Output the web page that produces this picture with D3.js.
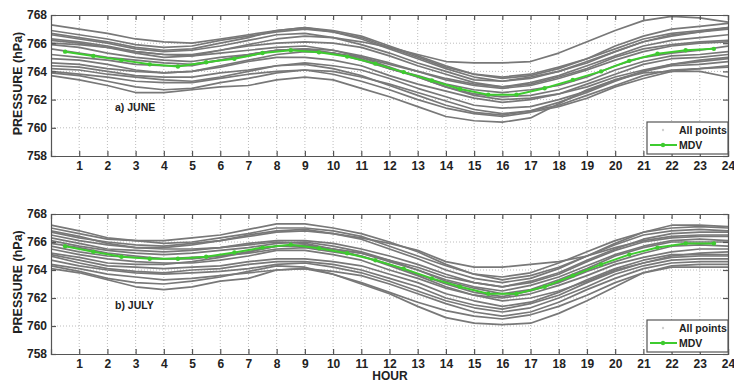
<!DOCTYPE html>
<html>
<head>
<meta charset="utf-8">
<script src="https://cdn.jsdelivr.net/npm/d3@7/dist/d3.min.js"></script>
<style>
  html, body { margin: 0; padding: 0; background: #ffffff; }
  svg { display: block; }
  text { font-family: "Liberation Sans", Arial, sans-serif; font-weight: bold; fill: #222; }
</style>
</head>
<body>
<svg id="chart" width="734" height="383"></svg>
<script>
// Hourly samples (hour 0 .. 24) for every day of the month
const hours = d3.range(0, 25);
// Hours at which the mean diurnal variation (MDV) is given
const mdvHours = d3.range(0.5, 24, 1);
const xTicks = d3.range(1, 25);
const yTicks = [758, 760, 762, 764, 766, 768];

// June: daily pressure curves (hPa)
const juneDays = [
  [767.3,767.0,766.7,766.3,766.1,766.0,766.3,766.6,766.9,767.1,766.8,766.4,765.7,765.0,764.3,763.8,763.6,763.8,764.3,764.9,765.6,766.3,766.7,766.9,767.1],
  [766.2,766.0,765.7,765.4,765.2,765.2,765.5,765.9,766.3,766.5,766.4,766.1,765.7,765.2,764.7,764.6,764.6,764.7,765.3,766.1,766.9,767.6,767.9,767.8,767.5],
  [763.7,763.4,763.0,762.5,762.5,762.7,762.9,763.0,763.4,763.6,763.4,762.8,762.2,761.5,760.8,760.5,760.4,760.7,761.7,762.7,763.4,763.9,764.0,764.0,763.6],
  [766.6,766.3,766.0,765.6,765.4,765.5,765.8,766.2,766.6,766.7,766.4,765.9,765.3,764.6,764.0,763.4,763.3,763.6,764.0,764.7,765.4,766.1,766.5,766.8,767.0],
  [766.0,765.9,765.7,765.3,765.0,765.1,765.5,765.8,766.0,766.1,766.0,765.7,765.1,764.4,763.8,763.2,762.9,763.1,763.6,764.2,765.0,765.6,765.9,766.1,766.2],
  [765.9,765.7,765.3,765.0,764.8,764.7,765.0,765.2,765.5,765.6,765.3,764.9,764.2,763.6,762.9,762.4,762.2,762.3,762.7,763.3,764.1,764.7,765.1,765.2,765.4],
  [765.2,765.0,764.8,764.5,764.4,764.4,764.8,765.1,765.5,765.6,765.5,765.1,764.6,764.0,763.4,763.0,762.8,763.0,763.5,764.1,764.8,765.4,765.8,766.0,766.1],
  [764.9,764.8,764.5,764.1,763.9,764.0,764.3,764.7,765.0,765.0,764.8,764.4,763.7,763.1,762.6,762.1,761.8,762.0,762.4,763.1,763.8,764.5,764.9,765.0,765.2],
  [764.4,764.3,764.0,763.7,763.6,763.6,763.9,764.1,764.4,764.6,764.4,764.1,763.5,762.8,762.2,761.6,761.4,761.5,762.0,762.6,763.4,764.0,764.4,764.5,764.7],
  [764.0,763.8,763.6,763.3,763.2,763.2,763.5,763.8,764.0,764.1,764.0,763.6,763.1,762.5,761.9,761.3,761.0,761.2,761.6,762.3,763.0,763.7,764.1,764.2,764.4],
  [766.3,766.1,765.8,765.4,765.2,765.1,765.3,765.5,765.7,765.8,765.5,765.0,764.3,763.6,762.9,762.3,762.0,762.1,762.4,762.9,763.6,764.1,764.5,764.7,764.9],
  [764.6,764.5,764.2,764.0,763.9,764.0,764.4,764.8,765.2,765.4,765.3,765.0,764.5,764.0,763.5,763.1,762.9,763.2,763.7,764.4,765.1,765.8,766.2,766.4,766.6],
  [766.9,766.6,766.3,765.9,765.7,765.8,766.2,766.5,766.8,767.0,766.8,766.3,765.6,764.9,764.2,763.6,763.3,763.5,764.0,764.6,765.4,766.1,766.6,766.8,767.1],
  [763.9,763.7,763.3,762.9,762.7,762.8,763.2,763.5,763.9,764.1,763.8,763.3,762.7,762.0,761.4,761.0,760.8,761.1,761.5,762.1,762.9,763.5,764.0,764.2,764.3],
  [765.6,765.3,765.0,764.8,764.6,764.5,764.8,765.2,765.5,765.5,765.3,764.8,764.2,763.7,763.1,762.7,762.5,762.7,763.0,763.6,764.4,765.0,765.3,765.5,765.8],
  [764.2,764.1,763.8,763.6,763.4,763.3,763.6,764.0,764.4,764.5,764.2,763.7,763.0,762.3,761.6,761.1,760.9,761.2,761.8,762.5,763.3,764.0,764.5,764.8,765.0],
  [766.7,766.4,766.1,765.7,765.5,765.6,766.0,766.4,766.9,767.1,766.9,766.5,765.8,765.1,764.4,763.8,763.5,763.7,764.2,764.9,765.8,766.5,767.0,767.2,767.4]
];
// June: mean diurnal variation at the half hours
const juneMdv = [765.4,765.1,764.8,764.5,764.35,764.65,764.9,765.3,765.5,765.35,765.05,764.55,763.95,763.35,762.75,762.35,762.35,762.8,763.4,764.0,764.75,765.25,765.5,765.6];

// July: daily pressure curves (hPa)
const julyDays = [
  [767.0,766.6,766.2,766.1,766.1,766.3,766.5,766.9,767.3,767.3,767.0,766.6,766.0,765.3,764.4,763.7,763.3,763.6,764.2,765.0,765.9,766.7,767.2,767.2,767.1],
  [766.5,766.1,765.8,765.6,765.6,765.8,766.1,766.4,766.7,766.8,766.6,766.3,765.9,765.4,764.6,764.2,764.2,764.4,764.6,765.0,765.6,766.1,766.4,766.5,766.5],
  [764.1,763.8,763.3,762.8,762.6,762.8,763.2,763.4,764.0,764.1,763.7,763.0,762.3,761.4,760.6,760.2,760.1,760.2,760.9,761.8,762.8,763.8,764.2,764.2,764.2],
  [764.3,763.9,763.4,763.1,763.0,763.2,763.5,763.9,764.3,764.2,763.7,763.1,762.4,761.7,761.1,760.7,760.5,760.8,761.4,762.2,763.1,763.8,764.3,764.4,764.4],
  [766.7,766.3,766.0,765.8,765.7,765.9,766.1,766.5,766.8,766.9,766.6,766.2,765.5,764.8,764.0,763.4,763.1,763.4,764.1,765.0,765.8,766.5,766.8,766.9,766.8],
  [766.3,765.9,765.5,765.4,765.3,765.4,765.6,765.9,766.1,766.1,765.9,765.5,765.0,764.4,763.7,763.1,762.8,763.1,763.7,764.6,765.4,766.0,766.3,766.4,766.4],
  [765.9,765.6,765.2,765.0,764.8,764.9,765.0,765.3,765.7,765.8,765.5,765.2,764.6,764.0,763.2,762.7,762.3,762.6,763.3,764.1,765.0,765.6,766.0,766.0,766.0],
  [765.5,765.1,764.8,764.6,764.5,764.5,764.7,765.0,765.4,765.4,765.1,764.7,764.0,763.4,762.7,762.2,762.0,762.3,762.9,763.6,764.4,764.9,765.3,765.5,765.5],
  [765.1,764.7,764.3,764.2,764.1,764.2,764.3,764.6,764.8,764.8,764.6,764.3,763.7,763.1,762.3,761.8,761.4,761.7,762.4,763.3,764.1,764.7,765.1,765.1,765.1],
  [764.7,764.3,764.0,763.8,763.7,763.8,763.9,764.1,764.4,764.5,764.2,763.8,763.2,762.5,761.8,761.3,761.0,761.3,762.0,762.8,763.7,764.3,764.7,764.8,764.8],
  [765.2,764.9,764.5,764.4,764.4,764.6,764.9,765.3,765.7,765.7,765.5,765.2,764.7,764.2,763.5,763.1,762.8,763.2,763.8,764.7,765.5,766.2,766.6,766.7,766.7],
  [766.8,766.4,765.9,765.6,765.5,765.5,765.6,765.8,766.0,765.9,765.5,765.0,764.3,763.6,762.8,762.2,761.8,762.0,762.5,763.2,764.0,764.5,764.9,765.0,765.0],
  [764.4,764.1,763.7,763.5,763.3,763.4,763.6,763.8,764.0,764.1,763.9,763.6,763.0,762.3,761.6,761.0,760.7,761.0,761.7,762.6,763.4,764.1,764.5,764.6,764.6],
  [766.1,765.7,765.4,765.2,765.1,765.2,765.4,765.6,765.9,766.0,765.7,765.3,764.7,764.0,763.3,762.8,762.5,762.9,763.5,764.3,765.1,765.7,766.1,766.2,766.1],
  [767.2,766.8,766.3,766.1,765.9,766.0,766.3,766.6,767.0,767.0,766.8,766.4,765.7,765.0,764.3,763.7,763.5,763.8,764.5,765.3,766.1,766.7,767.0,767.1,767.0],
  [765.7,765.3,765.0,764.9,764.8,764.8,765.0,765.2,765.5,765.6,765.3,765.0,764.4,763.7,763.0,762.4,762.1,762.5,763.1,763.9,764.6,765.2,765.7,765.8,765.7],
  [765.0,764.5,764.1,763.9,763.8,764.0,764.1,764.4,764.6,764.6,764.4,764.0,763.4,762.8,762.0,761.5,761.2,761.6,762.2,763.1,763.9,764.5,765.0,765.2,765.3]
];
// July: mean diurnal variation at the half hours
const julyMdv = [765.7,765.3,764.95,764.8,764.8,764.95,765.25,765.6,765.8,765.55,765.2,764.7,764.1,763.4,762.8,762.3,762.3,762.8,763.6,764.4,765.1,765.6,765.9,765.9];

const panels = [
  { id: "june", label: "a) JUNE", days: juneDays, mdv: juneMdv, top: 15, bottom: 156 },
  { id: "july", label: "b) JULY", days: julyDays, mdv: julyMdv, top: 214, bottom: 354 }
];

const svg = d3.select("#chart");
const left = 51, right = 728;
const x = d3.scaleLinear().domain([0, 24]).range([left, right]);

const grayColor = "#787878";
const greenColor = "#3ecb2f";
const frameColor = "#555";
const gridColor = "#bdbdbd";

panels.forEach(p => {
  const y = d3.scaleLinear().domain([758, 768]).range([p.bottom, p.top]);
  const g = svg.append("g");

  g.append("clipPath").attr("id", "clip-" + p.id)
    .append("rect").attr("x", left).attr("y", p.top)
    .attr("width", right - left).attr("height", p.bottom - p.top);

  // dotted grid
  g.append("g").selectAll("line").data(xTicks.slice(0, -1)).join("line")
    .attr("x1", d => x(d)).attr("x2", d => x(d))
    .attr("y1", p.top).attr("y2", p.bottom)
    .attr("stroke", gridColor).attr("stroke-width", 1).attr("stroke-dasharray", "1,2");
  g.append("g").selectAll("line").data(yTicks.slice(1, -1)).join("line")
    .attr("x1", left).attr("x2", right)
    .attr("y1", d => y(d)).attr("y2", d => y(d))
    .attr("stroke", gridColor).attr("stroke-width", 1).attr("stroke-dasharray", "1,2");

  // daily curves
  const dayLine = d3.line().x((d, i) => x(hours[i])).y(d => y(d));
  g.append("g").attr("clip-path", "url(#clip-" + p.id + ")")
    .selectAll("path").data(p.days).join("path")
    .attr("d", dayLine)
    .attr("fill", "none").attr("stroke", grayColor).attr("stroke-width", 1.7)
    .attr("stroke-linejoin", "round");

  // mean diurnal variation
  const mdvLine = d3.line().x((d, i) => x(mdvHours[i])).y(d => y(d));
  g.append("path").datum(p.mdv).attr("d", mdvLine)
    .attr("fill", "none").attr("stroke", greenColor).attr("stroke-width", 2);
  g.append("g").selectAll("circle").data(p.mdv).join("circle")
    .attr("cx", (d, i) => x(mdvHours[i])).attr("cy", d => y(d))
    .attr("r", 2.2).attr("fill", greenColor);

  // axes with inward ticks (bottom/left labelled, top/right bare)
  const axB = d3.axisBottom(x).tickValues(xTicks).tickSize(-5).tickPadding(5).tickFormat(d3.format("d"));
  const axT = d3.axisTop(x).tickValues(xTicks).tickSize(-5).tickFormat("");
  const axL = d3.axisLeft(y).tickValues(yTicks).tickSize(-5).tickPadding(4).tickFormat(d3.format("d"));
  const axR = d3.axisRight(y).tickValues(yTicks).tickSize(-5).tickFormat("");

  const styleAxis = sel => {
    sel.select(".domain").attr("stroke", frameColor).attr("stroke-width", 1.2);
    sel.selectAll(".tick line").attr("stroke", frameColor).attr("stroke-width", 1.2);
    sel.selectAll(".tick text").attr("font-size", 12).attr("font-weight", "bold")
      .attr("fill", "#222").attr("font-family", "Liberation Sans, Arial, sans-serif");
  };
  g.append("g").attr("transform", `translate(0,${p.bottom})`).call(axB).call(styleAxis);
  g.append("g").attr("transform", `translate(0,${p.top})`).call(axT).call(styleAxis);
  g.append("g").attr("transform", `translate(${left},0)`).call(axL).call(styleAxis);
  g.append("g").attr("transform", `translate(${right},0)`).call(axR).call(styleAxis);

  // panel label
  g.append("text").attr("x", 115).attr("y", y(761.5) + 4)
    .attr("font-size", 10.5).text(p.label);

  // y-axis title
  g.append("text")
    .attr("transform", `translate(22,${(p.top + p.bottom) / 2 - 2}) rotate(-90)`)
    .attr("text-anchor", "middle").attr("font-size", 12.5)
    .text("PRESSURE (hPa)");

  // legend
  const lx = 647, ly = p.bottom - 34, lw = 81, lh = 32;
  const lg = g.append("g");
  lg.append("rect").attr("x", lx).attr("y", ly).attr("width", lw).attr("height", lh)
    .attr("fill", "#fff").attr("stroke", frameColor).attr("stroke-width", 1.2);
  lg.append("circle").attr("cx", lx + 16).attr("cy", ly + 8).attr("r", 1.2).attr("fill", "#d0d0d0");
  lg.append("text").attr("x", lx + 32).attr("y", ly + 12).attr("font-size", 10.5).text("All points");
  lg.append("line").attr("x1", lx + 3).attr("x2", lx + 30).attr("y1", ly + 23).attr("y2", ly + 23)
    .attr("stroke", greenColor).attr("stroke-width", 2);
  lg.append("circle").attr("cx", lx + 16).attr("cy", ly + 23).attr("r", 2.2).attr("fill", greenColor);
  lg.append("text").attr("x", lx + 32).attr("y", ly + 27).attr("font-size", 10.5).text("MDV");
});

// x-axis title
svg.append("text").attr("x", 390).attr("y", 380)
  .attr("text-anchor", "middle").attr("font-size", 12).text("HOUR");
</script>
</body>
</html>
